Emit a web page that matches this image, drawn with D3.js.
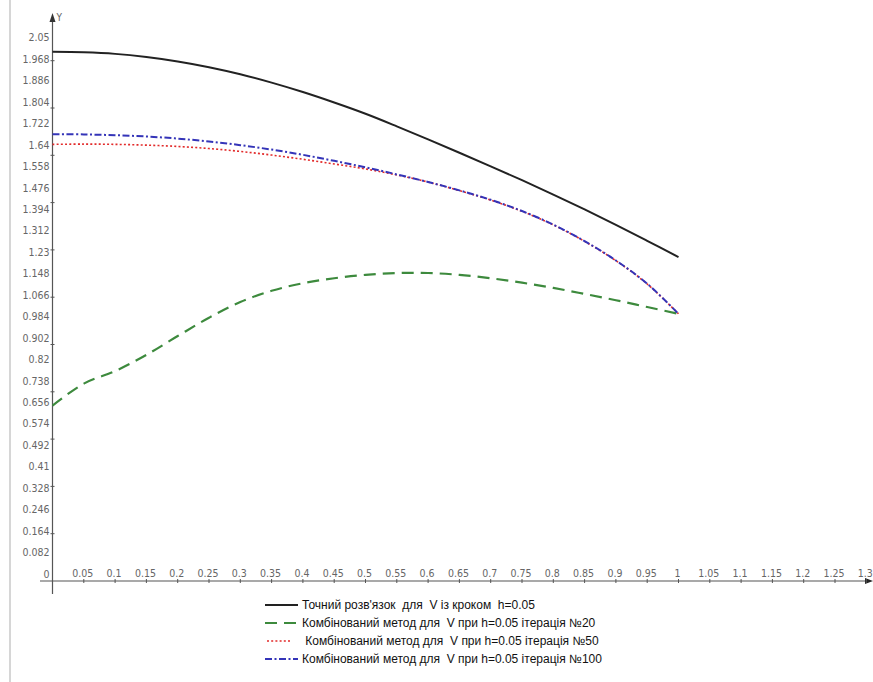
<!DOCTYPE html>
<html>
<head>
<meta charset="utf-8">
<script src="https://cdn.jsdelivr.net/npm/d3@7"></script>
<style>
  html, body { margin: 0; padding: 0; background: #fff; }
  svg { display: block; }
  .tick-label { font-family: "Liberation Sans Narrow", "DejaVu Sans Condensed", "Liberation Sans", sans-serif; font-size: 10.5px; fill: #666; }
  .legend-text { font-family: "Liberation Sans", Arial, sans-serif; font-size: 12px; fill: #111; }
</style>
</head>
<body>
<svg id="chart" width="873" height="682"></svg>
<script>
// ---- data ----
const xValues = [0, 0.05, 0.1, 0.15, 0.2, 0.25, 0.3, 0.35, 0.4, 0.45, 0.5,
                 0.55, 0.6, 0.65, 0.7, 0.75, 0.8, 0.85, 0.9, 0.95, 1.0];
const exactV = [1.997, 1.995, 1.989, 1.977, 1.960, 1.938, 1.911, 1.879, 1.843, 1.803, 1.760,
                1.712, 1.662, 1.611, 1.559, 1.506, 1.451, 1.394, 1.335, 1.274, 1.212];
const iter20V = [0.644, 0.728, 0.776, 0.838, 0.910, 0.980, 1.040, 1.083, 1.112, 1.131, 1.144,
                 1.151, 1.151, 1.144, 1.131, 1.114, 1.094, 1.071, 1.047, 1.021, 0.995];
const iter50V = [1.643, 1.644, 1.643, 1.640, 1.635, 1.627, 1.616, 1.602, 1.586, 1.568, 1.549,
                 1.526, 1.499, 1.466, 1.430, 1.387, 1.335, 1.272, 1.198, 1.109, 0.995];
const iter100V = [1.682, 1.681, 1.678, 1.673, 1.665, 1.654, 1.640, 1.623, 1.603, 1.580, 1.555,
                  1.528, 1.499, 1.467, 1.431, 1.388, 1.336, 1.273, 1.199, 1.110, 0.995];
const yTickLabels = ["0", "0.082", "0.164", "0.246", "0.328", "0.41", "0.492", "0.574", "0.656",
                     "0.738", "0.82", "0.902", "0.984", "1.066", "1.148", "1.23", "1.312", "1.394",
                     "1.476", "1.558", "1.64", "1.722", "1.804", "1.886", "1.968", "2.05"];
const xTickLabels = ["0.05", "0.1", "0.15", "0.2", "0.25", "0.3", "0.35", "0.4", "0.45", "0.5",
                     "0.55", "0.6", "0.65", "0.7", "0.75", "0.8", "0.85", "0.9", "0.95", "1",
                     "1.05", "1.1", "1.15", "1.2", "1.25", "1.3"];
const seriesNames = [
  "Точний розв'язок  для  V із кроком  h=0.05",
  "Комбінований метод для  V при h=0.05 ітерація №20",
  " Комбінований метод для  V при h=0.05 ітерація №50",
  "Комбінований метод для  V при h=0.05 ітерація №100"
];

// ---- styles ----
const styles = [
  { color: "#222222", width: 2, dash: null },
  { color: "#3d8a3d", width: 2.2, dash: "12,7" },
  { color: "#e22a2a", width: 1.6, dash: "2,2.2" },
  { color: "#3434b8", width: 2, dash: "7,2.5,2,2.5" }
];
const seriesValues = [exactV, iter20V, iter50V, iter100V];

const svg = d3.select("#chart");
const x = d3.scaleLinear().domain([0, 1.3]).range([52.5, 52.5 + 1.3 * 626]);
const y = d3.scaleLinear().domain([0, 2.05]).range([574, 574 - 2.05 * 261.5]);
const axisY = y(0) + 7;      // horizontal axis line position
const axisX = x(0);          // vertical axis line position
const axisColor = "#555";

// left frame line
svg.append("line").attr("x1", 10).attr("x2", 10).attr("y1", 0).attr("y2", 682)
  .attr("stroke", "#bbb").attr("stroke-width", 1.2);

// horizontal axis
svg.append("line").attr("x1", 40).attr("x2", 868).attr("y1", axisY).attr("y2", axisY)
  .attr("stroke", axisColor).attr("stroke-width", 1.2);
svg.append("path")
  .attr("d", `M873,${axisY} L865,${axisY - 3} L865,${axisY + 3} Z`)
  .attr("fill", "#222");

// vertical axis
svg.append("line").attr("x1", axisX).attr("x2", axisX).attr("y1", 20).attr("y2", 594)
  .attr("stroke", axisColor).attr("stroke-width", 1.2);
svg.append("path")
  .attr("d", `M${axisX},13 L${axisX - 3},22 L${axisX + 3},22 Z`)
  .attr("fill", "#333");
svg.append("text").attr("class", "tick-label").attr("x", axisX + 4).attr("y", 21)
  .style("font-size", "10px").text("Y");

// x ticks and labels
const xTickVals = xTickLabels.map(Number);
svg.append("g").selectAll("line").data(xTickVals).join("line")
  .attr("x1", d => x(d)).attr("x2", d => x(d))
  .attr("y1", axisY - 2).attr("y2", axisY + 2)
  .attr("stroke", axisColor).attr("stroke-width", 1);
svg.append("g").selectAll("text").data(xTickLabels).join("text")
  .attr("class", "tick-label")
  .attr("x", d => x(+d) - 1).attr("y", y(0) + 3)
  .attr("text-anchor", "middle")
  .text(d => d);

// y labels
svg.append("g").selectAll("text").data(yTickLabels).join("text")
  .attr("class", "tick-label")
  .attr("x", axisX - 3).attr("y", d => y(+d) + 3.5)
  .attr("text-anchor", "end")
  .text(d => d);

// y minor ticks (decorative, evenly spaced along the axis)
const yMinorTicks = d3.range(1, 12).map(k => y.invert(axisY - 47.3 * k));
svg.append("g").selectAll("line").data(yMinorTicks).join("line")
  .attr("x1", axisX - 2).attr("x2", axisX + 2)
  .attr("y1", d => y(d)).attr("y2", d => y(d))
  .attr("stroke", axisColor).attr("stroke-width", 1);

// curves
const line = d3.line()
  .x((d, i) => x(xValues[i]))
  .y(d => y(d))
  .curve(d3.curveCatmullRom.alpha(0.5));

[0, 1, 2, 3].forEach(i => {
  const s = styles[i];
  const p = svg.append("path").datum(seriesValues[i])
    .attr("d", line)
    .attr("fill", "none")
    .attr("stroke", s.color)
    .attr("stroke-width", s.width)
    .attr("stroke-linejoin", "round");
  if (s.dash) p.attr("stroke-dasharray", s.dash);
});

// legend
const legendRowY = [605, 623, 641, 659];
const legendX0 = [265, 265, 267, 265];
const legendX1 = [298, 298, 290, 298];
const legendTextX = [302, 302, 302, 302];
seriesNames.forEach((name, i) => {
  const s = styles[i];
  const l = svg.append("line")
    .attr("x1", legendX0[i]).attr("x2", legendX1[i])
    .attr("y1", legendRowY[i]).attr("y2", legendRowY[i])
    .attr("stroke", s.color).attr("stroke-width", s.width);
  if (s.dash) l.attr("stroke-dasharray", s.dash);
  svg.append("text").attr("class", "legend-text")
    .attr("x", legendTextX[i]).attr("y", legendRowY[i] + 4)
    .attr("xml:space", "preserve")
    .style("white-space", "pre")
    .text(name);
});
</script>
</body>
</html>
